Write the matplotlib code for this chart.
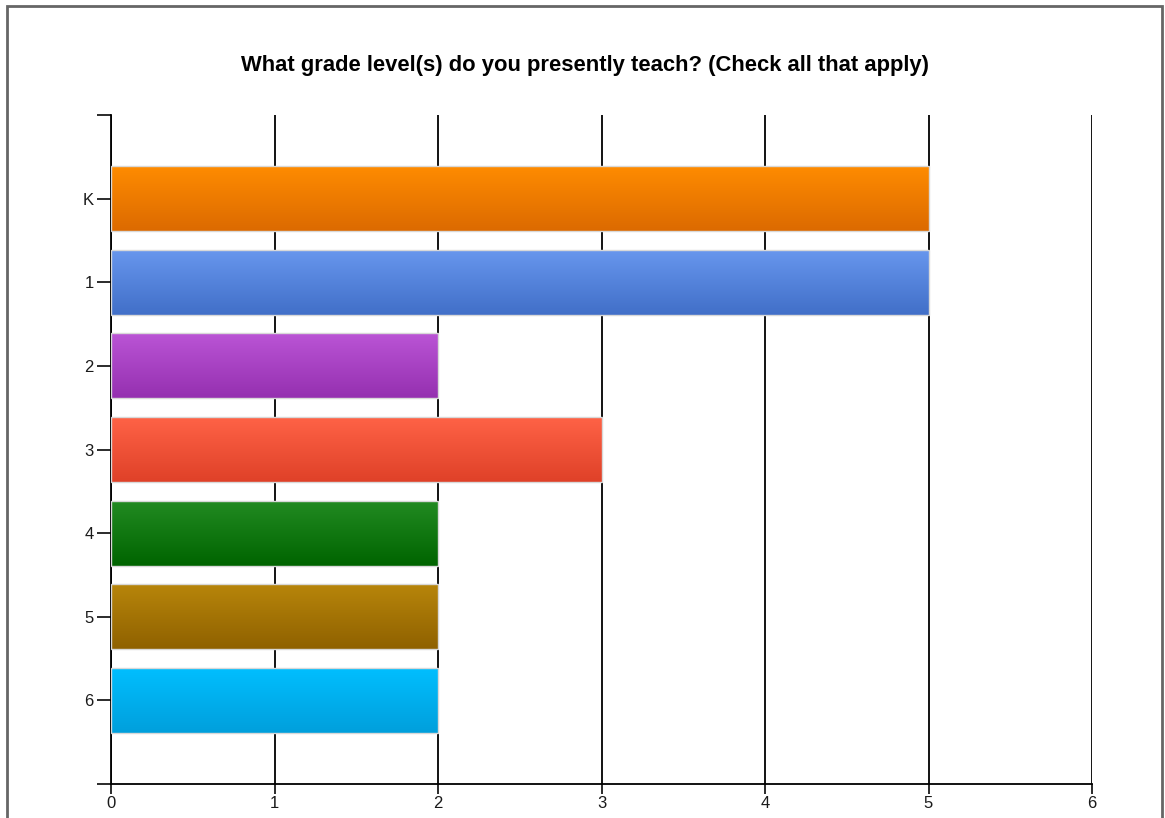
import numpy as np
import matplotlib
matplotlib.use("Agg")
import matplotlib.pyplot as plt
from matplotlib.colors import LinearSegmentedColormap
from matplotlib.patches import Rectangle

plt.rcParams['font.family'] = ['Liberation Sans', 'DejaVu Sans']

# Survey answers: number of teachers per grade level
grades = ['K', '1', '2', '3', '4', '5', '6']
counts = [5, 5, 2, 3, 2, 2, 2]

# gradient colours for each bar (top, bottom)
bar_top = ['#ff8c00', '#6897ee', '#bb55d6', '#ff6347', '#228b22', '#b8860b', '#00bfff']
bar_bottom = ['#dc6a00', '#416fc8', '#9530b0', '#df4128', '#006400', '#8f6100', '#009fdc']

fig = plt.figure(figsize=(11.65, 8.18), dpi=100)
ax = fig.add_axes([111 / 1165, 34 / 818, (1092 - 111) / 1165, (784 - 115) / 818])

ypos = np.arange(1, len(grades) + 1)
height = 0.78

bars = ax.barh(ypos, counts, height=height, color='none', edgecolor='#d8d8d8',
               linewidth=1.0, zorder=3)

# fill each bar with a vertical gradient, clipped to the bar shape
grad = np.linspace(0, 1, 256).reshape(-1, 1)
for b, c0, c1, y, v in zip(bars, bar_top, bar_bottom, ypos, counts):
    cmap = LinearSegmentedColormap.from_list('g', [c0, c1])
    im = ax.imshow(grad, cmap=cmap, aspect='auto', zorder=2,
                   extent=(0, v, y + height / 2, y - height / 2),
                   interpolation='bilinear')
    im.set_clip_path(b)

ax.set_xlim(0, 6)
ax.set_ylim(8, 0)
ax.set_xticks(range(7))
ax.set_yticks(ypos)
ax.set_yticklabels(grades)
ax.set_yticks([0, 8], minor=True)

ax.xaxis.grid(True, color='black', linewidth=1.3, zorder=0)
ax.set_axisbelow(True)
for s in ['top', 'right']:
    ax.spines[s].set_visible(False)
for s in ['left', 'bottom']:
    ax.spines[s].set_linewidth(1.3)

ax.tick_params(axis='y', which='both', length=10, width=1.3, labelsize=12,
               colors='#1a1a1a', pad=2.5)
ax.tick_params(axis='x', length=7, width=1.3, labelsize=12,
               colors='#1a1a1a', pad=2)

fig.text(585 / 1165, 1 - 65 / 818,
         'What grade level(s) do you presently teach? (Check all that apply)',
         ha='center', va='center', fontsize=15.8, fontweight='bold')

# frame around the whole chart
fig.patches.append(Rectangle((7 / 1165, -0.05), (1162 - 7) / 1165, 1.05 - 6 / 818,
                             transform=fig.transFigure, fill=False,
                             edgecolor='#666666', linewidth=2))

fig.savefig('out.png', dpi=100)
